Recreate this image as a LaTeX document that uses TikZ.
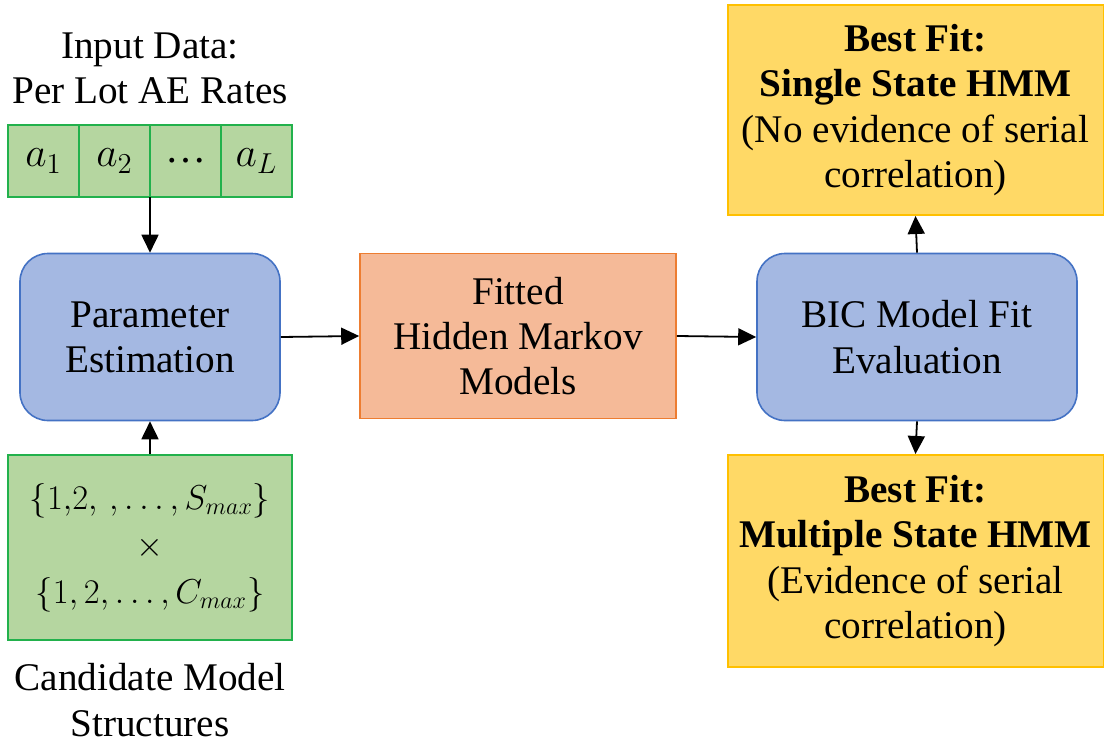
\documentclass[tikz,border=0pt]{standalone}
\usepackage{fontspec}
\setmainfont{Liberation Serif}
\usetikzlibrary{arrows.meta}
\definecolor{dataGreen}{HTML}{B5D6A0}
\definecolor{dataEdge}{HTML}{22B14C}
\definecolor{stepBlue}{HTML}{A4B8E2}
\definecolor{stepEdge}{HTML}{4472C4}
\definecolor{modelOrange}{HTML}{F5BA98}
\definecolor{modelEdge}{HTML}{ED7D31}
\definecolor{resultYellow}{HTML}{FFD966}
\definecolor{resultEdge}{HTML}{FFC000}
\tikzstyle{label text}=[align=center, font=\fontsize{19.6}{22.6}\selectfont]
\tikzstyle{data cell}=[draw=dataEdge, fill=dataGreen, line width=1pt, minimum width=35.5pt, minimum height=36pt, inner sep=0, font=\fontsize{20.5}{22.5}\selectfont]
\tikzstyle{data box}=[draw=dataEdge, fill=dataGreen, line width=1pt, minimum width=142pt, minimum height=92.5pt, inner sep=2pt, align=center, font=\fontsize{18.5}{23.5}\selectfont]
\tikzstyle{process}=[draw=stepEdge, fill=stepBlue, line width=0.8pt, rounded corners=14pt, minimum width=130pt, minimum height=83.5pt, label text]
\tikzstyle{model}=[draw=modelEdge, fill=modelOrange, line width=0.8pt, minimum width=158pt, minimum height=82.5pt, label text]
\tikzstyle{result}=[draw=resultEdge, fill=resultYellow, line width=1pt, minimum width=188pt, label text]
\tikzstyle{flow}=[-{Triangle[length=9pt, width=8.5pt]}, line width=0.9pt]

\begin{document}
\begin{tikzpicture}[x=0.5pt, y=-0.5pt]
  \useasboundingbox (0,0) rectangle (1104,744);

  \node[label text] (input_title) at (150,68) {Input Data:\\Per Lot AE Rates};
  \node[data cell] (a_1) at (43.5,161) {$a_1$};
  \node[data cell] (a_2) at (114.5,161) {$a_2$};
  \node[data cell] (a_dots) at (185.5,161) {\ldots};
  \node[data cell] (a_L) at (256.5,161) {$a_L$};
  \coordinate (a_bottom) at (150,197);

  \node[process] (estimate) at (150,337) {Parameter\\Estimation};
  \node[data box] (candidates) at (150,547.5)
    {$\{1{,}2,\,,\ldots,S_{max}\}$\\$\times$\\$\{1,2,\ldots,C_{max}\}$};
  \node[label text] (cand_title) at (150,700) {Candidate Model\\Structures};

  \node[model] (fitted) at (518,336) {Fitted\\Hidden Markov\\Models};
  \node[process, minimum width=160pt] (bic) at (917,337) {BIC Model Fit\\Evaluation};

  \node[result, minimum height=105pt] (single) at (915.5,110)
    {\textbf{Best Fit:}\\\textbf{Single State HMM}\\(No evidence of serial\\correlation)};
  \node[result, minimum height=106pt] (multiple) at (915.5,561)
    {\textbf{Best Fit:}\\\textbf{Multiple State HMM}\\(Evidence of serial\\correlation)};

  \draw[flow] (a_bottom) -- (estimate.north);
  \draw[flow] (candidates.north) -- (estimate.south);
  \draw[flow] (estimate.east) -- (fitted.west);
  \draw[flow] (fitted.east) -- (bic.west);
  \draw[flow] (bic.north) -- (single.south);
  \draw[flow] (bic.south) -- (multiple.north);
\end{tikzpicture}
\end{document}
